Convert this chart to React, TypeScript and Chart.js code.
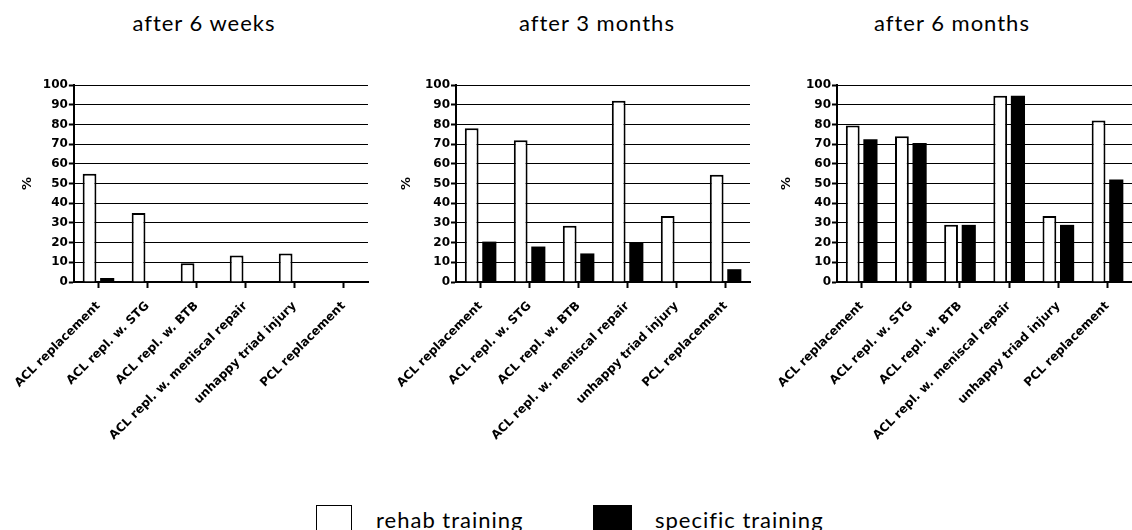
import React, { useEffect, useRef } from "react";
import { Chart, registerables } from "chart.js";

Chart.register(...registerables);

const categories = [
  "ACL replacement",
  "ACL repl. w. STG",
  "ACL repl. w. BTB",
  "ACL repl. w. meniscal repair",
  "unhappy triad injury",
  "PCL replacement",
];
const panelTitles = ["after 6 weeks", "after 3 months", "after 6 months"];
const seriesNames = ["rehab training", "specific training"];

const rehab6w = [55, 35, 9.5, 13.5, 14.5, 0];
const specific6w = [2, 0, 0, 0, 0, 0];
const rehab3m = [78, 72, 28.5, 92, 33.5, 54.5];
const specific3m = [20.5, 18, 14.5, 20, 0, 6.5];
const rehab6m = [79.5, 74, 29, 94.5, 33.5, 82];
const specific6m = [72.5, 70.5, 29, 94.5, 29, 52];

const yMin = 0;
const yMax = 100;
const yStep = 10;
const yTitle = "%";

const panelData = [
  [rehab6w, specific6w],
  [rehab3m, specific3m],
  [rehab6m, specific6m],
];

// layout geometry (pixels)
const panelGeom = [
  { left: 0, axisX: 73, right: 368, titleX: 204 },
  { left: 380, axisX: 456, right: 750, titleX: 597 },
  { left: 760, axisX: 837, right: 1132, titleX: 952 },
];
const CANVAS_TOP = 75;
const CANVAS_H = 400;
const PLOT_TOP = 85;
const PLOT_BOTTOM = 282;
const PAD_LEFT = 15;
const PAD_RIGHT = 2;
const TICK_FONT = "'DejaVu Sans', sans-serif";
const TEXT_FONT = "Lato, 'Open Sans', sans-serif";

function Panel({ idx }: { idx: number }) {
  const ref = useRef<HTMLCanvasElement | null>(null);
  const g = panelGeom[idx];
  const width = g.right - g.left + PAD_RIGHT;
  useEffect(() => {
    if (!ref.current) return;
    const [rehab, specific] = panelData[idx];
    const chart = new Chart(ref.current, {
      type: "bar",
      data: {
        labels: categories,
        datasets: [
          {
            label: seriesNames[0],
            data: rehab,
            backgroundColor: "#ffffff",
            borderColor: "#000000",
            borderWidth: 2,
            categoryPercentage: 0.72,
            barPercentage: 0.78,
          },
          {
            label: seriesNames[1],
            data: specific,
            backgroundColor: "#000000",
            borderColor: "#000000",
            borderWidth: 0,
            categoryPercentage: 0.72,
            barPercentage: 0.8,
          },
        ],
      },
      options: {
        animation: false,
        responsive: false,
        maintainAspectRatio: false,
        layout: {
          padding: { top: PLOT_TOP - CANVAS_TOP, left: PAD_LEFT, right: PAD_RIGHT, bottom: 0 },
        },
        plugins: {
          legend: { display: false },
          tooltip: { enabled: false },
        },
        scales: {
          x: {
            offset: true,
            grid: {
              display: true,
              offset: false,
              drawOnChartArea: false,
              drawTicks: true,
              tickLength: 6,
              tickWidth: 2,
              tickColor: "#000",
            },
            border: { display: true, color: "#000", width: 2 },
            ticks: {
              autoSkip: false,
              maxRotation: 45,
              minRotation: 45,
              padding: 11,
              color: "#000",
              font: { family: TICK_FONT, size: 12, weight: "bold" },
            },
            afterFit: (scale: any) => {
              scale.height = CANVAS_H - (PLOT_BOTTOM - CANVAS_TOP);
            },
          },
          y: {
            min: yMin,
            max: yMax,
            ticks: {
              stepSize: yStep,
              padding: 1,
              color: "#000",
              font: { family: TICK_FONT, size: 12, weight: "bold" },
            },
            grid: {
              color: "#000",
              lineWidth: 1,
              tickLength: 5,
              tickColor: "#000",
              tickWidth: 2,
            },
            border: { display: true, color: "#000", width: 2 },
            title: {
              display: true,
              text: yTitle,
              color: "#000",
              padding: { top: 4, bottom: 4 },
              font: { family: TICK_FONT, size: 13, weight: "bold" },
            },
            afterFit: (scale: any) => {
              scale.width = g.axisX - g.left - PAD_LEFT;
            },
          },
        },
      },
    });
    return () => chart.destroy();
  }, [idx]);
  return (
    <>
      <div
        style={{
          position: "absolute",
          left: g.titleX - 150,
          width: 300,
          top: 9,
          textAlign: "center",
          fontFamily: TEXT_FONT,
          fontSize: 22,
          letterSpacing: 1,
          lineHeight: "28px",
          color: "#000",
        }}
      >
        {panelTitles[idx]}
      </div>
      <canvas
        ref={ref}
        width={width}
        height={CANVAS_H}
        style={{ position: "absolute", left: g.left, top: CANVAS_TOP, width, height: CANVAS_H }}
      />
    </>
  );
}

export default function App() {
  const legendText = {
    position: "absolute" as const,
    top: 506,
    fontFamily: TEXT_FONT,
    fontSize: 22,
    letterSpacing: 1,
    lineHeight: "28px",
    color: "#000",
    whiteSpace: "nowrap" as const,
  };
  return (
    <div
      style={{
        position: "fixed",
        left: 0,
        top: 0,
        width: 1132,
        height: 530,
        background: "#fff",
        overflow: "hidden",
      }}
    >
      {panelGeom.map((_, i) => (
        <Panel key={i} idx={i} />
      ))}
      <div
        style={{
          position: "absolute",
          left: 316,
          top: 505,
          width: 34,
          height: 40,
          border: "1.5px solid #000",
          background: "#fff",
        }}
      />
      <div style={{ ...legendText, left: 376 }}>{seriesNames[0]}</div>
      <div
        style={{
          position: "absolute",
          left: 593,
          top: 505,
          width: 39,
          height: 40,
          background: "#000",
        }}
      />
      <div style={{ ...legendText, left: 655 }}>{seriesNames[1]}</div>
    </div>
  );
}
